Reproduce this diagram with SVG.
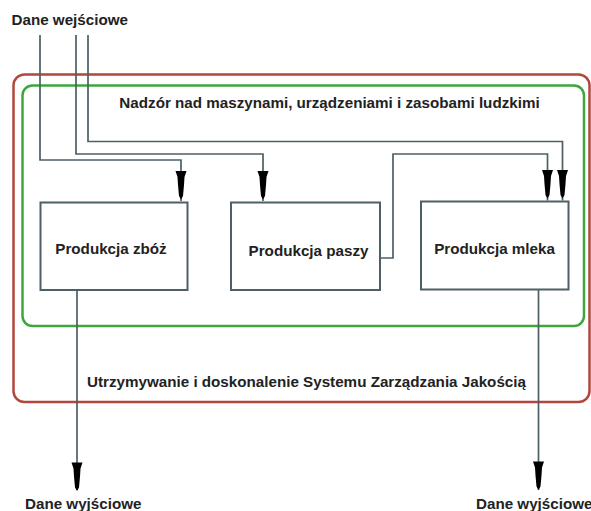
<svg xmlns="http://www.w3.org/2000/svg" xmlns:xlink="http://www.w3.org/1999/xlink" width="591" height="511" viewBox="0 0 591 511">
<style>
  .t { font-family: "Liberation Sans", Arial, sans-serif; font-weight: bold; font-size: 15.2px; fill: #222; }
  .box { fill: #fff; stroke: #4c6066; stroke-width: 2; }
  .ln { fill: none; stroke: #4c6066; stroke-width: 1.7; }
  .red { fill: none; stroke: #b3473d; stroke-width: 2.5; }
  .green { fill: none; stroke: #3fa63f; stroke-width: 2.5; }
</style>
<defs>
  <path id="arr" d="M-5.5,0 L5.5,0 L3.5,6 L3,14 L2,25 L0,28.5 L-2,25 L-3,14 L-3.5,6 Z" fill="#000"/>
</defs>
<rect width="591" height="511" fill="#fff"/>
<g id="qms">
  <rect class="red" x="13.5" y="74.5" width="576" height="327.5" rx="11"/>
  <text class="t" x="306.5" y="387" text-anchor="middle">Utrzymywanie i doskonalenie Systemu Zarządzania Jakością</text>
</g>
<g id="supervision">
  <rect class="green" x="22.5" y="85.5" width="561.5" height="240.5" rx="10"/>
  <text class="t" x="329.5" y="108" text-anchor="middle">Nadzór nad maszynami, urządzeniami i zasobami ludzkimi</text>
</g>
<g id="input-label">
  <text class="t" x="11.5" y="25">Dane wejściowe</text>
</g>
<g id="zboz">
  <rect class="box" x="40.5" y="202.5" width="147" height="87.5"/>
  <text class="t" x="111" y="254" text-anchor="middle">Produkcja zbóż</text>
</g>
<g id="pasza">
  <rect class="box" x="231" y="202.5" width="149" height="87.5"/>
  <text class="t" x="308.5" y="256" text-anchor="middle">Produkcja paszy</text>
</g>
<g id="mleko">
  <rect class="box" x="421" y="201.5" width="147.5" height="88"/>
  <text class="t" x="494.5" y="254" text-anchor="middle">Produkcja mleka</text>
</g>
<g id="connectors">
  <polyline class="ln" points="40,35 40,160 181,160 181,201"/>
  <polyline class="ln" points="76,35 76,154 263,154 263,201"/>
  <polyline class="ln" points="88,35 88,141.5 562.5,141.5 562.5,200.5"/>
  <polyline class="ln" points="380,258 393,258 393,154 547.5,154 547.5,200.5"/>
  <line class="ln" x1="77" y1="290" x2="77" y2="490"/>
  <line class="ln" x1="538.5" y1="289.5" x2="538.5" y2="490"/>
  <use xlink:href="#arr" x="181" y="171"/>
  <use xlink:href="#arr" x="263" y="171"/>
  <use xlink:href="#arr" x="547.5" y="170"/>
  <use xlink:href="#arr" x="562.5" y="170"/>
  <use xlink:href="#arr" x="77" y="462.5"/>
  <use xlink:href="#arr" x="538.5" y="461.5"/>
</g>
<g id="output-labels">
  <text class="t" x="25" y="509">Dane wyjściowe</text>
  <text class="t" x="476" y="509">Dane wyjściowe</text>
</g>
</svg>
